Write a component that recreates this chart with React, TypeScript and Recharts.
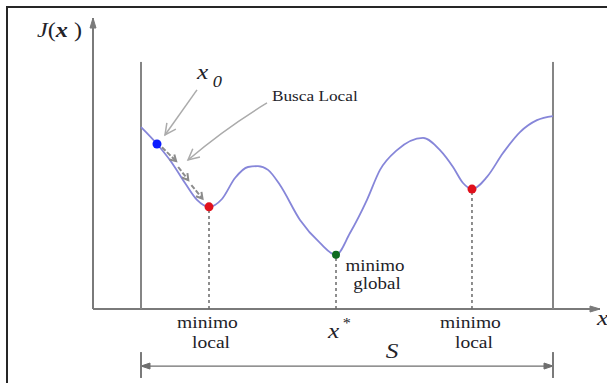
import { ComposedChart, Line, XAxis, YAxis, ReferenceLine, ReferenceDot } from 'recharts';

// J(x) sampled over the search space S (x and J in chart units 0..100)
const curveX = [
  9.47, 12.62, 15.58, 18.15, 20.51, 22.88, 25.44, 28.01, 30.57, 32.54, 34.52, 36.88, 40.83, 44.77, 47.93,
  50.69, 54.04, 56.61, 59.96, 65.09, 68.44, 71.01, 72.98, 74.75, 77.71, 80.87, 84.22, 87.57, 90.73,
];
const curveY = [
  62.5, 56.7, 50.2, 43.3, 37.5, 35.1, 37.8, 45.0, 48.8, 49.1, 47.8, 42.6, 30.6, 22.7, 18.6,
  26.1, 37.5, 47.8, 54.6, 58.8, 54.6, 48.8, 43.3, 41.2, 45.4, 53.6, 60.8, 64.9, 66.3,
];

// points on the curve: starting point x0, and the three minima
const startIdx = 1;
const minIdx = [5, 14, 23];
const globalIdx = 14;
const minCaption = [
  ['minimo', 'local'],
  ['minimo', 'global'],
  ['minimo', 'local'],
];

// bounds of S
const spaceBounds = [9.47, 90.73];
const boundTop = 84.9;
const spaceArrowY = -19.6;
const spaceTick = [-14.8, -23.7];
const spaceLabelX = 59;

// local search steps from x0 down to the first minimum
const stepFrom = [
  [13.6, 55.6],
  [16.8, 48.8],
  [19.4, 42.6],
];
const stepTo = [
  [16.4, 50.8],
  [18.8, 44.3],
  [21.6, 37.9],
];

// callout arrows
const x0Arrow = [
  [20.51, 75.3],
  [14.2, 59.8],
];
const searchArrow = [
  [34.32, 70.8],
  [18.74, 51.2],
];

const W = 607;
const H = 383;
const FONT = "'Liberation Serif', 'Times New Roman', serif";
const INK = '#222228';
const DOT_COLORS = ['#e0101c', '#0e6b21', '#e0101c'];

type ArrowOpts = {
  color: string;
  width: number;
  head: number;
  spread: number;
  filled?: boolean;
  dash?: string;
  bend?: number;
  both?: boolean;
};

function headPath(tx: number, ty: number, dx: number, dy: number, o: ArrowOpts) {
  const len = Math.hypot(dx, dy) || 1;
  const ux = dx / len;
  const uy = dy / len;
  const bx = tx - ux * o.head;
  const by = ty - uy * o.head;
  const ax = bx - uy * o.spread;
  const ay = by + ux * o.spread;
  const cx = bx + uy * o.spread;
  const cy = by - ux * o.spread;
  return o.filled ? `M${ax},${ay}L${tx},${ty}L${cx},${cy}Z` : `M${ax},${ay}L${tx},${ty}L${cx},${cy}`;
}

const arrowShape = (o: ArrowOpts) => (p: any) => {
  const { x1, y1, x2, y2 } = p;
  const mx = (x1 + x2) / 2;
  const my = (y1 + y2) / 2;
  const len = Math.hypot(x2 - x1, y2 - y1) || 1;
  // control point pushed sideways for slightly curved callouts
  const qx = mx + ((y2 - y1) / len) * (o.bend ?? 0);
  const qy = my - ((x2 - x1) / len) * (o.bend ?? 0);
  const body = o.bend ? `M${x1},${y1}Q${qx},${qy} ${x2},${y2}` : `M${x1},${y1}L${x2},${y2}`;
  return (
    <g>
      <path d={body} stroke={o.color} strokeWidth={o.width} fill="none" strokeDasharray={o.dash} />
      <path
        d={headPath(x2, y2, x2 - qx, y2 - qy, o)}
        stroke={o.color}
        strokeWidth={o.filled ? 1 : o.width}
        fill={o.filled ? o.color : 'none'}
      />
      {o.both && (
        <path
          d={headPath(x1, y1, x1 - qx, y1 - qy, o)}
          stroke={o.color}
          strokeWidth={o.filled ? 1 : o.width}
          fill={o.filled ? o.color : 'none'}
        />
      )}
    </g>
  );
};

function Txt({ x, y, size = 17, anchor = 'middle', italic = false, children }: any) {
  return (
    <text
      transform={`translate(${x},${y}) scale(1.15,1)`}
      textAnchor={anchor}
      fontFamily={FONT}
      fontSize={size}
      fontStyle={italic ? 'italic' : 'normal'}
      fill={INK}
    >
      {children}
    </text>
  );
}

const axisArrow = arrowShape({ color: '#7a7a7a', width: 2, head: 10, spread: 3, filled: true });
const calloutArrow = arrowShape({ color: '#ababab', width: 1.5, head: 11, spread: 5.5 });
const stepArrow = arrowShape({ color: '#8c8c8c', width: 2, head: 6, spread: 3.5, dash: '5 2' });
const spaceArrow = arrowShape({ color: '#6e6e6e', width: 1.2, head: 9, spread: 3, filled: true, both: true });

export default function App() {
  const data = curveX.map((x, i) => ({ x, y: curveY[i] }));

  return (
    <div style={{ position: 'fixed', left: 0, top: 0, width: W, height: H, overflow: 'hidden', background: '#fff' }}>
      <div
        style={{
          position: 'absolute',
          left: 6,
          top: 6,
          width: 700,
          height: 500,
          borderLeft: '2px solid #262626',
          borderTop: '2px solid #262626',
        }}
      />
      <div style={{ position: 'absolute', left: 0, top: 0 }}>
        <ComposedChart width={W} height={H} data={data} margin={{ top: 18, right: 7, bottom: 74, left: 93 }}>
          <XAxis type="number" dataKey="x" domain={[0, 100]} hide />
          <YAxis type="number" domain={[0, 100]} hide />

          {/* axes */}
          <ReferenceLine segment={[{ x: 0, y: 0 }, { x: 0, y: 100 }]} ifOverflow="visible" shape={axisArrow} />
          <ReferenceLine segment={[{ x: 0, y: 0 }, { x: 100, y: 0 }]} ifOverflow="visible" shape={axisArrow} />

          {/* bounds of S */}
          {spaceBounds.map((b) => (
            <ReferenceLine
              key={`b-${b}`}
              segment={[{ x: b, y: 0 }, { x: b, y: boundTop }]}
              ifOverflow="visible"
              stroke="#858585"
              strokeWidth={2}
            />
          ))}

          {/* drop lines from the minima */}
          {minIdx.map((i) => (
            <ReferenceLine
              key={`d-${i}`}
              segment={[{ x: curveX[i], y: 0 }, { x: curveX[i], y: curveY[i] }]}
              ifOverflow="visible"
              stroke="#6a6a6a"
              strokeWidth={1.5}
              strokeDasharray="3 3"
            />
          ))}

          <Line
            type="monotone"
            dataKey="y"
            stroke="#8686d9"
            strokeWidth={1.8}
            dot={false}
            activeDot={false}
            isAnimationActive={false}
          />

          {/* search steps */}
          {stepFrom.map((f, k) => (
            <ReferenceLine
              key={`s-${k}`}
              segment={[{ x: f[0], y: f[1] }, { x: stepTo[k][0], y: stepTo[k][1] }]}
              ifOverflow="visible"
              shape={stepArrow}
            />
          ))}

          {/* callouts */}
          <ReferenceLine
            segment={[{ x: x0Arrow[0][0], y: x0Arrow[0][1] }, { x: x0Arrow[1][0], y: x0Arrow[1][1] }]}
            ifOverflow="visible"
            shape={calloutArrow}
          />
          <ReferenceLine
            segment={[{ x: searchArrow[0][0], y: searchArrow[0][1] }, { x: searchArrow[1][0], y: searchArrow[1][1] }]}
            ifOverflow="visible"
            shape={arrowShape({ color: '#ababab', width: 1.5, head: 11, spread: 5.5, bend: -4 })}
          />

          {/* extent of S */}
          <ReferenceLine
            segment={[{ x: spaceBounds[0], y: spaceArrowY }, { x: spaceBounds[1], y: spaceArrowY }]}
            ifOverflow="visible"
            shape={spaceArrow}
          />
          {spaceBounds.map((b) => (
            <ReferenceLine
              key={`t-${b}`}
              segment={[{ x: b, y: spaceTick[0] }, { x: b, y: spaceTick[1] }]}
              ifOverflow="visible"
              stroke="#7a7a7a"
              strokeWidth={2}
            />
          ))}

          {/* points */}
          <ReferenceDot
            x={curveX[startIdx]}
            y={curveY[startIdx]}
            r={4.5}
            fill="#0b1cff"
            stroke="none"
            ifOverflow="visible"
          />
          {minIdx.map((i, k) => (
            <ReferenceDot
              key={`m-${i}`}
              x={curveX[i]}
              y={curveY[i]}
              r={i === globalIdx ? 4 : 4.5}
              fill={DOT_COLORS[k]}
              stroke="none"
              ifOverflow="visible"
            />
          ))}

          {/* captions */}
          {minIdx.map((i, k) =>
            i === globalIdx ? (
              <ReferenceDot
                key={`c-${i}`}
                x={curveX[i]}
                y={curveY[i]}
                ifOverflow="visible"
                shape={(p: any) => (
                  <g>
                    <Txt x={p.cx + 39} y={p.cy + 16} size={16.5}>{minCaption[k][0]}</Txt>
                    <Txt x={p.cx + 41} y={p.cy + 34.5} size={16.5}>{minCaption[k][1]}</Txt>
                  </g>
                )}
              />
            ) : (
              <ReferenceDot
                key={`c-${i}`}
                x={curveX[i]}
                y={0}
                ifOverflow="visible"
                shape={(p: any) => (
                  <g>
                    <Txt x={p.cx - 1.5} y={p.cy + 19}>{minCaption[k][0]}</Txt>
                    <Txt x={p.cx + 2} y={p.cy + 39}>{minCaption[k][1]}</Txt>
                  </g>
                )}
              />
            )
          )}

          <ReferenceDot
            x={curveX[globalIdx]}
            y={0}
            ifOverflow="visible"
            shape={(p: any) => (
              <Txt x={p.cx - 8} y={p.cy + 29} anchor="start" size={22} italic>
                x<tspan dx={3} dy={-10} fontSize={14} fontStyle="normal">*</tspan>
              </Txt>
            )}
          />

          <ReferenceDot
            x={spaceLabelX}
            y={spaceArrowY}
            ifOverflow="visible"
            shape={(p: any) => (
              <Txt x={p.cx} y={p.cy - 8} size={22} italic>
                S
              </Txt>
            )}
          />

          <ReferenceDot
            x={0}
            y={100}
            ifOverflow="visible"
            shape={(p: any) => (
              <Txt x={p.cx - 11} y={p.cy + 19} anchor="end" size={21}>
                <tspan fontStyle="italic">J</tspan>(<tspan fontStyle="italic" fontWeight="bold">x</tspan> )
              </Txt>
            )}
          />

          <ReferenceDot
            x={100}
            y={0}
            ifOverflow="visible"
            shape={(p: any) => (
              <Txt x={p.cx - 3} y={p.cy + 16} anchor="start" size={22} italic>
                x
              </Txt>
            )}
          />

          <ReferenceDot
            x={x0Arrow[0][0]}
            y={x0Arrow[0][1]}
            ifOverflow="visible"
            shape={(p: any) => (
              <Txt x={p.cx} y={p.cy - 11} anchor="start" size={22} italic>
                x<tspan dx={4} dy={8} fontSize={16}>0</tspan>
              </Txt>
            )}
          />

          <ReferenceDot
            x={searchArrow[0][0]}
            y={searchArrow[0][1]}
            ifOverflow="visible"
            shape={(p: any) => (
              <Txt x={p.cx + 5} y={p.cy - 2} anchor="start" size={15}>
                Busca Local
              </Txt>
            )}
          />
        </ComposedChart>
      </div>
    </div>
  );
}
